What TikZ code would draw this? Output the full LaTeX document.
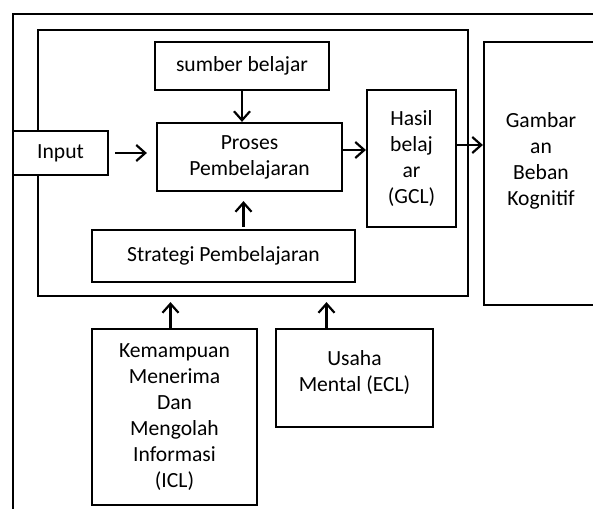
\documentclass[tikz,border=0pt]{standalone}
\usepackage{fontspec}
\setmainfont{Carlito}
\usetikzlibrary{arrows.meta, positioning, calc}
\tikzset{
  txt/.style={font=\fontsize{10.8}{13}\selectfont, align=center},
  box/.style={rectangle, draw=black, fill=white, line width=1.1pt,
    txt, inner sep=2pt},
  arrow/.style={-{Straight Barb[length=4.5pt,width=8pt,line width=1.1pt]},
    line width=1.1pt},
  frameline/.style={line width=1.1pt}
}

\begin{document}
\begin{tikzpicture}[x=0.5pt, y=-0.5pt]
  \useasboundingbox (0,0) rectangle (593,508);
  \clip (0,0) rectangle (593,508);

  % Outer frame (runs off the page)
  \draw[frameline] (13,530) -- (13,14) -- (620,14);

  % Inner frame
  \node[box, fill=none, minimum width=215pt, minimum height=133pt] (frame) at (253,163) {};

  % Blocks inside
  \node[box, minimum width=47.5pt, minimum height=22pt] (input) at (60.5,153) {Input};
  \node[box, minimum width=87pt, minimum height=24pt] (sumber) at (242,66) {sumber belajar};
  \node[box, minimum width=92.5pt, minimum height=34pt] (proses) at (249.5,157) {Proses\\Pembelajaran};
  \node[box, minimum width=131.5pt, minimum height=26pt] (strategi) at (223.5,256) {Strategi Pembelajaran};
  \node[box, minimum width=44.5pt, minimum height=68.5pt] (hasil) at (411.5,158.5) {Hasil\\belaj\\ar\\(GCL)};

  % Right block
  \node[box, minimum width=57pt, minimum height=131.5pt,
    label={[txt, yshift=6.5pt]center:Gambar\\an\\Beban\\Kognitif}] (gambar) at (541,173.5) {};

  % Blocks below
  \node[box, minimum width=82.5pt, minimum height=88pt] (kemampuan) at (174.5,417) {Kemampuan\\Menerima\\Dan\\Mengolah\\Informasi\\(ICL)};
  \node[box, minimum width=78.5pt, minimum height=49pt,
    label={[txt, yshift=3pt]center:Usaha\\Mental (ECL)}] (usaha) at (354.5,378) {};

  % Arrows
  \draw[arrow, shorten <=3pt, shorten >=4.5pt] (input.east) -- (input.east -| proses.west);
  \draw[arrow] (sumber.south) -- (sumber.south |- proses.north);
  \draw[arrow, shorten <=1pt, shorten >=4.5pt] ([xshift=-3pt]proses.south |- strategi.north) -- ([xshift=-3pt]proses.south);
  \draw[arrow] ([yshift=3.5pt]proses.east) -- ([yshift=3.5pt]proses.east -| hasil.west);
  \draw[arrow] ([yshift=6.75pt]hasil.east) -- ([yshift=6.75pt]hasil.east -| gambar.west);
  \draw[arrow, shorten >=2.5pt] ([xshift=-2pt]kemampuan.north) -- ([xshift=-2pt]kemampuan.north |- frame.south);
  \draw[arrow, shorten >=2.5pt] ([xshift=-14pt]usaha.north) -- ([xshift=-14pt]usaha.north |- frame.south);
\end{tikzpicture}
\end{document}
